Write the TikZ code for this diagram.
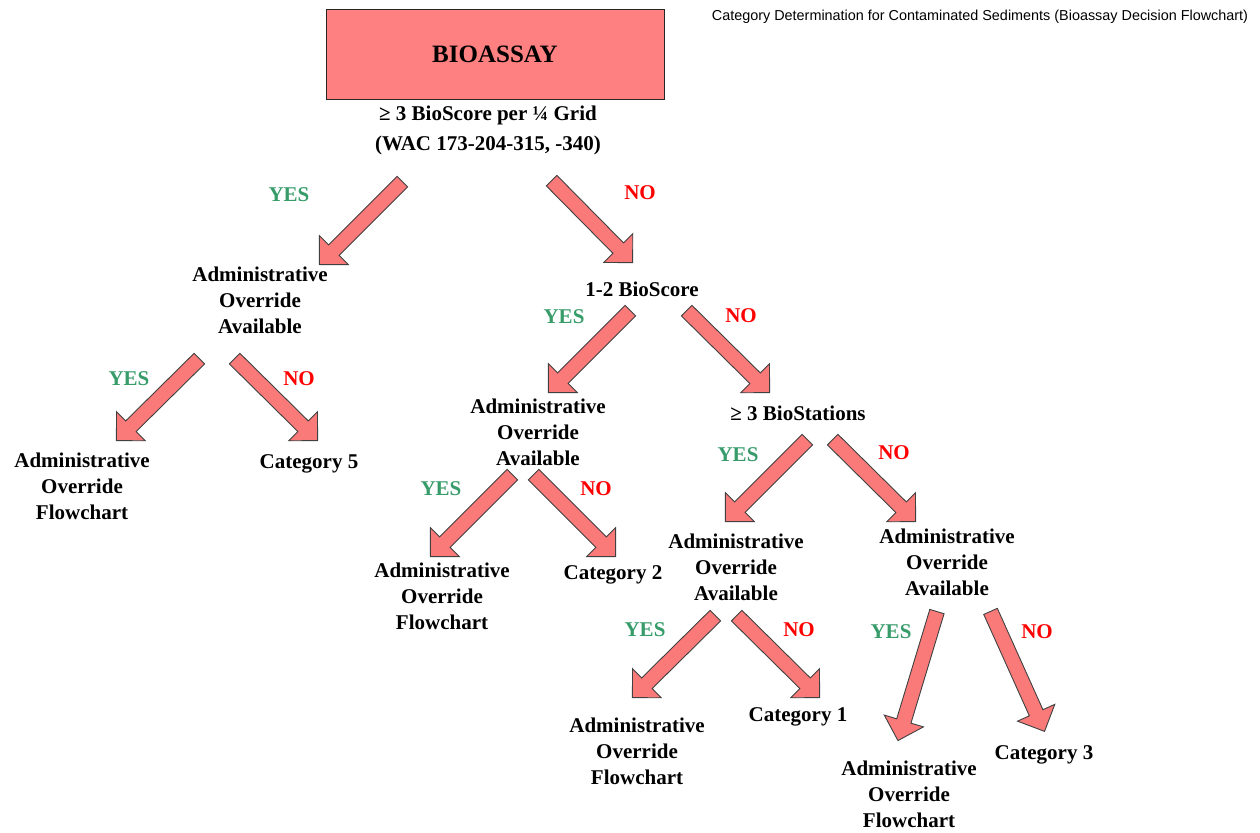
\documentclass[tikz,border=0pt]{standalone}
\usepackage{fontspec}
\setmainfont{Liberation Serif}
\newfontfamily\headfont{Liberation Sans}
\usetikzlibrary{shapes.arrows,calc}

\definecolor{boxpink}{RGB}{255,128,128}
\definecolor{arrowpink}{RGB}{250,122,122}
\definecolor{yesgreen}{RGB}{56,156,106}
\definecolor{nored}{RGB}{255,0,0}

\newcommand{\bioarrow}[2]{%
  \path let \p1=(#1), \p2=(#2),
    \n1={atan2(\y2-\y1,\x2-\x1)}, \n2={veclen(\x2-\x1,\y2-\y1)} in
    node[bigarrow, minimum height=\n2, rotate=\n1] at ($(#1)!0.5!(#2)$) {};}

\begin{document}
\begin{tikzpicture}[x=1pt, y=-1pt,
  txt/.style={font=\bfseries\fontsize{21}{26}\selectfont, align=center, inner sep=0pt},
  yes/.style={txt, text=yesgreen},
  no/.style={txt, text=nored},
  bigarrow/.style={single arrow, draw=black!75, fill=arrowpink, line width=0.9pt,
    inner xsep=0pt, inner ysep=7pt, minimum width=40pt, single arrow head extend=13pt,
    single arrow tip angle=90, single arrow head indent=0pt}]
\useasboundingbox (0,0) rectangle (1260,832);

\node [font=\headfont\fontsize{14.4}{16}\selectfont] (title) at (980,17)
  {Category Determination for Contaminated Sediments (Bioassay Decision Flowchart)};

\node [draw=black!85, fill=boxpink, line width=0.8pt, minimum width=338pt, minimum height=90pt,
  font=\bfseries\fontsize{25}{30}\selectfont] (bio) at (495,54) {BIOASSAY};
\node [txt, font=\bfseries\fontsize{21}{30}\selectfont] (grid) at (488,130)
  {≥ 3 BioScore per ¼ Grid\\(WAC 173-204-315, -340)};

% first split
\node [yes] (y1) at (289,195) {YES};
\node [no] (n1) at (640,193) {NO};
\coordinate (a1) at (405,179); \coordinate (b1) at (322,262);
\coordinate (a2) at (549,178); \coordinate (b2) at (630,260);
\bioarrow{a1}{b1}
\bioarrow{a2}{b2}

\node [txt] (adm1) at (260,300) {Administrative\\Override\\Available};
\node [txt] (score) at (642,289) {1-2 BioScore};

% left branch
\node [yes] (y2) at (129,379) {YES};
\node [no] (n2) at (299,379) {NO};
\coordinate (a3) at (202,356); \coordinate (b3) at (119,438);
\coordinate (a4) at (232,356); \coordinate (b4) at (315,438);
\bioarrow{a3}{b3}
\bioarrow{a4}{b4}
\node [txt] (flow1) at (82,486) {Administrative\\Override\\Flowchart};
\node [txt] (cat5) at (309,464) {Category 5};

% 1-2 BioScore
\node [yes] (y3) at (564,317) {YES};
\node [no] (n3) at (741,316) {NO};
\coordinate (a5) at (633,308); \coordinate (b5) at (551,390);
\coordinate (a6) at (684,308); \coordinate (b6) at (767,390);
\bioarrow{a5}{b5}
\bioarrow{a6}{b6}
\node [txt] (adm2) at (538,432) {Administrative\\Override\\Available};
\node [txt] (stations) at (798,413) {≥ 3 BioStations};

\node [yes] (y4) at (441,489) {YES};
\node [no] (n4) at (596,489) {NO};
\coordinate (a7) at (515,472); \coordinate (b7) at (433,554);
\coordinate (a8) at (531,472); \coordinate (b8) at (613,554);
\bioarrow{a7}{b7}
\bioarrow{a8}{b8}
\node [txt] (flow2) at (442,596) {Administrative\\Override\\Flowchart};
\node [txt] (cat2) at (613,575) {Category 2};

% >= 3 BioStations
\node [yes] (y5) at (738,455) {YES};
\node [no] (n5) at (894,453) {NO};
\coordinate (a9) at (810,437); \coordinate (b9) at (728,519);
\coordinate (a10) at (830,437); \coordinate (b10) at (913,519);
\bioarrow{a9}{b9}
\bioarrow{a10}{b10}
\node [txt] (adm3) at (736,567) {Administrative\\Override\\Available};
\node [txt] (adm4) at (947,562) {Administrative\\Override\\Available};

\node [yes] (y6) at (645,630) {YES};
\node [no] (n6) at (799,630) {NO};
\coordinate (a11) at (718,613); \coordinate (b11) at (635,695);
\coordinate (a12) at (734,613); \coordinate (b12) at (817,695);
\bioarrow{a11}{b11}
\bioarrow{a12}{b12}
\node [txt] (flow3) at (637,751) {Administrative\\Override\\Flowchart};
\node [txt] (cat1) at (798,717) {Category 1};

\node [yes] (y7) at (891,632) {YES};
\node [no] (n7) at (1037,632) {NO};
\coordinate (a13) at (938,608); \coordinate (b13) at (899,737);
\coordinate (a14) at (989,608); \coordinate (b14) at (1043,728);
\bioarrow{a13}{b13}
\bioarrow{a14}{b14}
\node [txt] (flow4) at (909,794) {Administrative\\Override\\Flowchart};
\node [txt] (cat3) at (1044,755) {Category 3};
\end{tikzpicture}
\end{document}
